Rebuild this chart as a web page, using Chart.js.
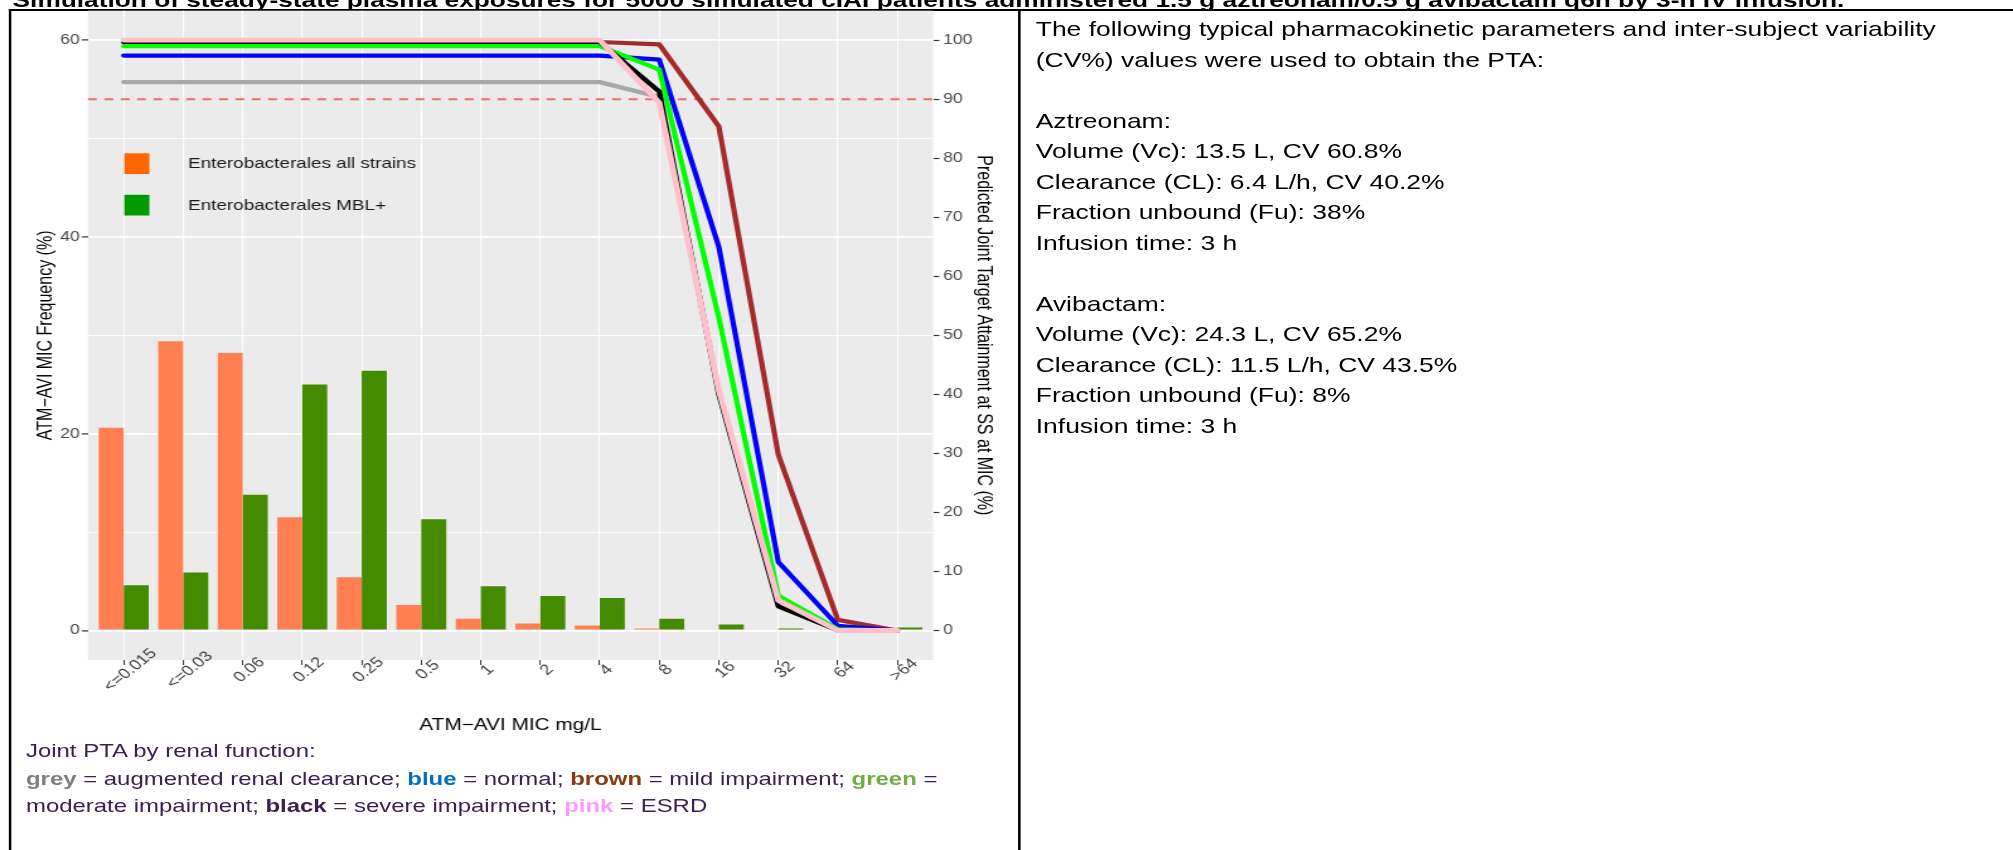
<!DOCTYPE html>
<html>
<head>
<meta charset="utf-8">
<title>ATM-AVI MIC distribution and joint PTA</title>
<script src="https://cdn.jsdelivr.net/npm/chart.js@4.4.1/dist/chart.umd.min.js"></script>
<style>
  html, body { margin: 0; padding: 0; background: #fff; overflow: hidden; }
  body { width: 2013px; height: 850px; position: relative; font-family: "Liberation Sans", Arial, sans-serif; }
  /* the source page is stretched sideways, so lay it out narrow and widen it */
  #page { position: absolute; left: 0; top: 0; width: 1598px; height: 850px; transform: scaleX(1.26); transform-origin: 0 0; }
  .rule { position: absolute; background: #000; }
  #titleClip { position: absolute; left: 0; top: 0; width: 1598px; height: 8.5px; overflow: hidden; }
  #title { position: absolute; left: 10px; top: -11.3px; font-weight: bold; font-size: 20.85px; line-height: 21px; white-space: nowrap; color: #000; }
  #chartBox { position: absolute; left: 9px; top: 10px; width: 799px; height: 730px; }
  #notes { position: absolute; left: 20.6px; top: 737px; font-size: 19px; line-height: 27.5px; color: #3d2050; white-space: nowrap; }
  #params { position: absolute; left: 822px; top: 14px; font-size: 21px; line-height: 30.5px; color: #000; white-space: nowrap; }
</style>
</head>
<body>
<div id="page">
  <div id="titleClip"><div id="title">Simulation of steady-state plasma exposures for 5000 simulated cIAI patients administered 1.5 g aztreonam/0.5 g avibactam q6h by 3-h IV infusion.</div></div>
  <div class="rule" style="left:7px; top:8.5px; width:1591px; height:2px"></div>
  <div class="rule" style="left:7px; top:8.5px; width:2px; height:842px"></div>
  <div class="rule" style="left:808px; top:8.5px; width:2px; height:842px"></div>

  <div id="chartBox"><canvas id="chart" width="799" height="730"></canvas></div>

  <div id="notes">Joint PTA by renal function:<br>
<b style="color:#7f7f7f">grey</b> = augmented renal clearance; <b style="color:#0070c0">blue</b> = normal; <b style="color:#843c0c">brown</b> = mild impairment; <b style="color:#70ad47">green</b> =<br>
moderate impairment; <b>black</b> = severe impairment; <b style="color:#ff99ff">pink</b> = ESRD</div>

  <div id="params">The following typical pharmacokinetic parameters and inter-subject variability<br>
(CV%) values were used to obtain the PTA:<br>
<br>
Aztreonam:<br>
Volume (Vc): 13.5 L, CV 60.8%<br>
Clearance (CL): 6.4 L/h, CV 40.2%<br>
Fraction unbound (Fu): 38%<br>
Infusion time: 3 h<br>
<br>
Avibactam:<br>
Volume (Vc): 24.3 L, CV 65.2%<br>
Clearance (CL): 11.5 L/h, CV 43.5%<br>
Fraction unbound (Fu): 8%<br>
Infusion time: 3 h</div>
</div>

<script>
// MIC bins on the x axis
const micLabels = ["<=0.015", "<=0.03", "0.06", "0.12", "0.25", "0.5", "1", "2", "4", "8", "16", "32", "64", ">64"];

// MIC frequency (%) -- bars on the left axis
const barNames = ["Enterobacterales all strains", "Enterobacterales MBL+"];
const freqAllStrains = [20.6, 29.4, 28.2, 11.5, 5.4, 2.6, 1.2, 0.7, 0.5, 0.2, 0.1, 0.1, 0.1, 0];
const freqMblPos = [4.6, 5.9, 13.8, 25.0, 26.4, 11.3, 4.5, 3.5, 3.3, 1.2, 0.6, 0.2, 0, 0.3];

// joint PTA (%) by renal function -- lines on the right axis
const ptaAugmented = [92.9, 92.9, 92.9, 92.9, 92.9, 92.9, 92.9, 92.9, 92.9, 90.4, 40.5, 4.6, 0, 0];
const ptaNormal = [97.4, 97.4, 97.4, 97.4, 97.4, 97.4, 97.4, 97.4, 97.4, 96.7, 65.0, 11.6, 0.8, 0];
const ptaMild = [99.7, 99.7, 99.7, 99.7, 99.7, 99.7, 99.7, 99.7, 99.7, 99.3, 85.4, 29.8, 1.8, 0];
const ptaModerate = [99.0, 99.0, 99.0, 99.0, 99.0, 99.0, 99.0, 99.0, 99.0, 95.0, 53.0, 5.9, 0.2, 0];
const ptaSevere = [99.7, 99.7, 99.7, 99.7, 99.7, 99.7, 99.7, 99.7, 99.7, 91.3, 40.0, 4.1, 0, 0];
const ptaEsrd = [100, 100, 100, 100, 100, 100, 100, 100, 100, 89.4, 40.7, 5.1, 0, 0];

// axis ticks
const freqGrid = [0, 10, 20, 30, 40, 50, 60];
const freqLabelled = [0, 20, 40, 60];
const ptaTicks = [0, 10, 20, 30, 40, 50, 60, 70, 80, 90, 100];
const ptaTarget = 90;

// the secondary axis is the primary one scaled: 100 % PTA sits at 60 % frequency
const freqMin = -3, freqMax = 63, ptaFactor = 0.6;

const toXY = (arr) => arr.map((v, i) => ({ x: i + 1, y: v }));

const lineSeries = [
  { label: "ESRD", data: ptaEsrd, color: "#FFC0CB", width: 4.8 },
  { label: "Severe impairment", data: ptaSevere, color: "#000000", width: 4.2 },
  { label: "Moderate impairment", data: ptaModerate, color: "#00FF00", width: 4.2 },
  { label: "Normal", data: ptaNormal, color: "#0000FF", width: 4.2 },
  { label: "Mild impairment", data: ptaMild, color: "#A52A2A", width: 4.2 },
  { label: "Augmented renal clearance", data: ptaAugmented, color: "#A8A8A8", width: 4.2 },
];

const datasets = lineSeries.map((s, i) => ({
  type: "line",
  label: s.label,
  data: toXY(s.data),
  yAxisID: "y2",
  borderColor: s.color,
  borderWidth: s.width,
  borderCapStyle: "round",
  borderJoinStyle: "round",
  pointRadius: 0,
  tension: 0,
  order: i,
}));

datasets.push(
  { type: "bar", label: barNames[0], data: toXY(freqAllStrains), yAxisID: "y", backgroundColor: "#FF7F50", order: 6 },
  { type: "bar", label: barNames[1], data: toXY(freqMblPos), yAxisID: "y", backgroundColor: "#458B00", order: 7 }
);

const legendColors = ["#FF6600", "#009900"];
const tickFont = { size: 14 };
const tickColor = "#4A4A4A";

// keep the panel exactly where the axes were sized, without label overhang padding
const fixSize = (prop, size) => (s) => {
  s[prop] = size;
  s.paddingTop = 0;
  s.paddingBottom = 0;
  s.paddingLeft = 0;
  s.paddingRight = 0;
};

// grey ggplot panel, target line, rotated MIC labels and the inset legend
const panelPlugin = {
  id: "panel",
  beforeDraw(chart) {
    const { ctx, chartArea: a } = chart;
    ctx.save();
    ctx.fillStyle = "#EBEBEB";
    ctx.fillRect(a.left, a.top, a.right - a.left, a.bottom - a.top);
    ctx.restore();
  },
  beforeDatasetsDraw(chart) {
    const { ctx, chartArea: a } = chart;
    const y = chart.scales.y2.getPixelForValue(ptaTarget);
    ctx.save();
    ctx.strokeStyle = "#F26B6B";
    ctx.lineWidth = 2.2;
    ctx.setLineDash([7, 6]);
    ctx.beginPath();
    ctx.moveTo(a.left, y);
    ctx.lineTo(a.right, y);
    ctx.stroke();
    ctx.restore();
  },
  afterDraw(chart) {
    const { ctx, chartArea: a } = chart;
    const xs = chart.scales.x;
    ctx.save();
    ctx.font = '14.5px "Liberation Sans", Arial, sans-serif';
    ctx.fillStyle = "#404040";
    ctx.textAlign = "center";
    ctx.textBaseline = "middle";
    micLabels.forEach((lab, i) => {
      ctx.save();
      ctx.translate(xs.getPixelForValue(i + 1) + 5.2, a.bottom + 10);
      ctx.rotate(-Math.PI / 4);
      ctx.fillText(lab, 0, 0);
      ctx.restore();
    });

    ctx.font = '15px "Liberation Sans", Arial, sans-serif';
    ctx.textAlign = "left";
    barNames.forEach((name, i) => {
      const top = a.top + 142.6 + i * 41.5;
      ctx.fillStyle = legendColors[i];
      ctx.fillRect(a.left + 28.8, top, 19.9, 20.7);
      ctx.fillStyle = "#1A1A1A";
      ctx.fillText(name, a.left + 79.4, top + 11);
    });
    ctx.restore();
  },
};

Chart.defaults.font.family = '"Liberation Sans", Arial, sans-serif';

new Chart(document.getElementById("chart"), {
  type: "bar",
  data: { datasets },
  plugins: [panelPlugin],
  options: {
    responsive: false,
    animation: false,
    events: [],
    layout: { padding: { top: 0.7, left: 0, right: 0, bottom: 0 } },
    datasets: { bar: { categoryPercentage: 0.84, barPercentage: 1.0, borderWidth: 0 } },
    plugins: { legend: { display: false }, tooltip: { enabled: false } },
    scales: {
      x: {
        type: "linear",
        min: 0.4,
        max: 14.6,
        offset: false,
        afterBuildTicks: (axis) => { axis.ticks = micLabels.map((_, i) => ({ value: i + 1 })); },
        ticks: { display: false },
        grid: { offset: false, color: "#FFFFFF", lineWidth: 1.1, tickColor: "#333333", tickLength: 5, tickWidth: 1 },
        border: { display: false },
        title: { display: true, text: "ATM\u2212AVI MIC mg/L", color: "#000", font: { size: 16.5 }, padding: { top: 0, bottom: 5.1 } },
        afterFit: fixSize("height", 80),
      },
      y: {
        position: "left",
        min: freqMin,
        max: freqMax,
        afterBuildTicks: (axis) => { axis.ticks = freqGrid.map((v) => ({ value: v })); },
        ticks: {
          font: tickFont,
          color: tickColor,
          padding: 1.5,
          callback: (v) => (freqLabelled.includes(v) ? v : ""),
        },
        grid: {
          color: "#FFFFFF",
          lineWidth: (c) => (freqLabelled.includes(c.tick.value) ? 1.8 : 0.9),
          tickColor: (c) => (freqLabelled.includes(c.tick.value) ? "#333333" : "rgba(0,0,0,0)"),
          tickLength: 5,
          tickWidth: 1.2,
        },
        border: { display: false },
        title: { display: true, text: "ATM\u2212AVI MIC Frequency (%)", color: "#000", font: { size: 16 }, padding: { top: 17.5, bottom: 0 } },
        afterFit: fixSize("width", 60.84),
      },
      y2: {
        position: "right",
        min: freqMin / ptaFactor,
        max: freqMax / ptaFactor,
        afterBuildTicks: (axis) => { axis.ticks = ptaTicks.map((v) => ({ value: v })); },
        ticks: { font: tickFont, color: tickColor, padding: 3 },
        grid: { drawOnChartArea: false, tickColor: "#333333", tickLength: 5, tickWidth: 1.2 },
        border: { display: false },
        title: { display: true, text: "Predicted Joint Target Attainment at SS at MIC (%)", color: "#000", font: { size: 16 }, padding: { top: 17.9, bottom: 0 } },
        afterFit: fixSize("width", 67.5),
      },
    },
  },
});
</script>
</body>
</html>
